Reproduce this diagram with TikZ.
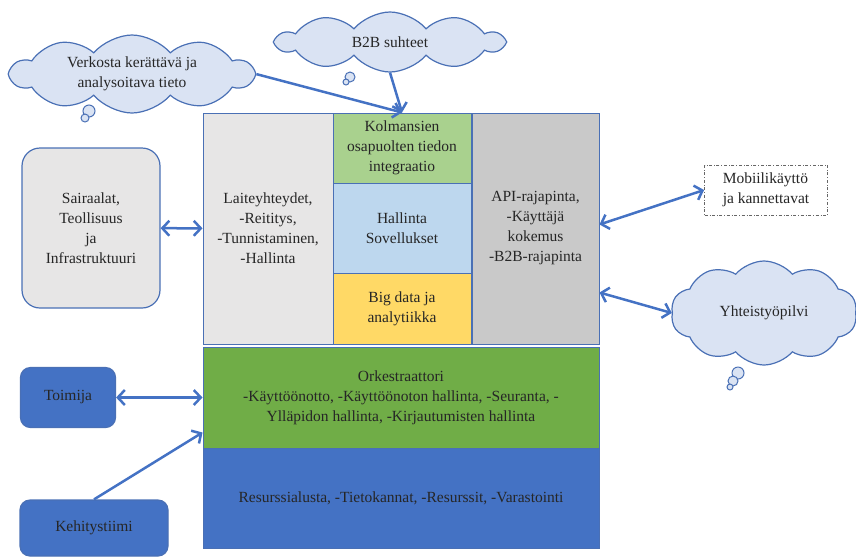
\documentclass[tikz,border=0pt]{standalone}
\usepackage{fontspec}
\setmainfont{Liberation Serif}
\usetikzlibrary{arrows.meta,shapes.symbols}
\definecolor{reuna}{HTML}{4A70B5}
\definecolor{nuolisini}{HTML}{4472C4}
\definecolor{pilvisini}{HTML}{DAE3F3}
\definecolor{vharmaa}{HTML}{E7E6E6}
\definecolor{tharmaa}{HTML}{C9C9C9}
\definecolor{vvihrea}{HTML}{A9D18E}
\definecolor{vsini}{HTML}{BDD7EE}
\definecolor{keltainen}{HTML}{FFD966}
\definecolor{vihrea}{HTML}{70AD47}
\tikzset{
    every node/.style={font=\rmfamily\fontsize{15.5}{20}\selectfont, text=black!85},
    solu/.style={draw=reuna, line width=1pt, inner sep=0pt, align=center},
    laatikko/.style={solu, rounded corners=18pt, line width=1.2pt},
    pilvi/.style={cloud, cloud puffs=10, cloud puff arc=100, cloud ignores aspect, draw=reuna, line width=1.2pt, fill=pilvisini, align=center, inner sep=0pt},
    kupla/.style={draw=reuna, line width=1pt, fill=pilvisini},
    nuoli/.style={draw=nuolisini, line width=2.5pt, arrows={-Straight Barb[length=7pt,width=15pt]}},
    kaksi/.style={nuoli, arrows={Straight Barb[length=7pt,width=15pt]-Straight Barb[length=7pt,width=15pt]}}
}
\begin{document}
\begin{tikzpicture}[x=1pt, y=-1pt]
    \useasboundingbox (0,0) rectangle (856,558);
    % ylaosa
    \node[solu, fill=vharmaa, minimum width=130, minimum height=231] (lait) at (268, 228.5)
        {Laiteyhteydet,\\-Reititys,\\-Tunnistaminen,\\-Hallinta};
    \node[solu, fill=vvihrea, minimum width=138, minimum height=70] (kolm) at (402, 148)
        {Kolmansien\\osapuolten tiedon\\integraatio};
    \node[solu, fill=vsini, minimum width=138, minimum height=90] (hall) at (402, 228)
        {Hallinta\\Sovellukset};
    \node[solu, fill=keltainen, minimum width=138, minimum height=71] (bigd) at (402, 308.5)
        {Big data ja\\analytiikka};
    \node[solu, fill=tharmaa, minimum width=127, minimum height=231] (api) at (535.5, 228.5)
        {API-rajapinta,\\-Käyttäjä\\kokemus\\-B2B-rajapinta};
    % alaosa
    \node[solu, fill=vihrea, minimum width=396, minimum height=101] (ork) at (401, 397.5)
        {Orkestraattori\\-Käyttöönotto, -Käyttöönoton hallinta, -Seuranta, -\\Ylläpidon hallinta, -Kirjautumisten hallinta};
    \node[solu, fill=nuolisini, minimum width=396, minimum height=100] (res) at (401, 498)
        {Resurssialusta, -Tietokannat, -Resurssit, -Varastointi};
    % vasen puoli
    \node[laatikko, fill=vharmaa, minimum width=138, minimum height=160] (sair) at (91, 228)
        {Sairaalat,\\Teollisuus\\ja\\Infrastruktuuri};
    \node[laatikko, fill=nuolisini, rounded corners=10pt, minimum width=95, minimum height=60] (toim) at (68, 397.5) {Toimija};
    \node[laatikko, fill=nuolisini, rounded corners=10pt, minimum width=148, minimum height=56] (keh) at (94, 528) {Kehitystiimi};
    % pilvet
    \node[pilvi, minimum width=242, minimum height=78] (verk) at (132, 74)
        {Verkosta kerättävä ja\\analysoitava tieto};
    \draw[kupla] (89, 111) circle (6);
    \draw[kupla] (85, 118) circle (4);
    \node[pilvi, minimum width=226, minimum height=60] (b2b) at (390, 42) {B2B suhteet};
    \draw[kupla] (350, 77) circle (5);
    \draw[kupla] (346, 82) circle (3);
    \node[pilvi, minimum width=186, minimum height=104] (yht) at (764, 313) {Yhteistyöpilvi};
    \draw[kupla] (738, 373) circle (6);
    \draw[kupla] (733, 381) circle (5);
    \draw[kupla] (730, 387) circle (3);
    % oikea puoli
    \node[draw=black!60, dash dot, line width=0.8pt, fill=white, align=left, inner sep=0pt,
        minimum width=123, minimum height=50] (mob) at (766, 190)
        {Mobiilikäyttö\\ja kannettavat};
    % nuolet
    \draw[kaksi] (sair) -- (lait);
    \draw[kaksi] (toim) -- (ork);
    \draw[nuoli] (keh.north) -- ([yshift=16pt]ork.south west);
    \draw[nuoli] (verk.east) -- (kolm.north);
    \draw[nuoli] (b2b.south) -- (kolm.north);
    \draw[kaksi] ([yshift=4pt]api.east) -- (mob.west);
    \draw[kaksi] ([yshift=-64pt]api.east) -- (yht.west);
\end{tikzpicture}
\end{document}
